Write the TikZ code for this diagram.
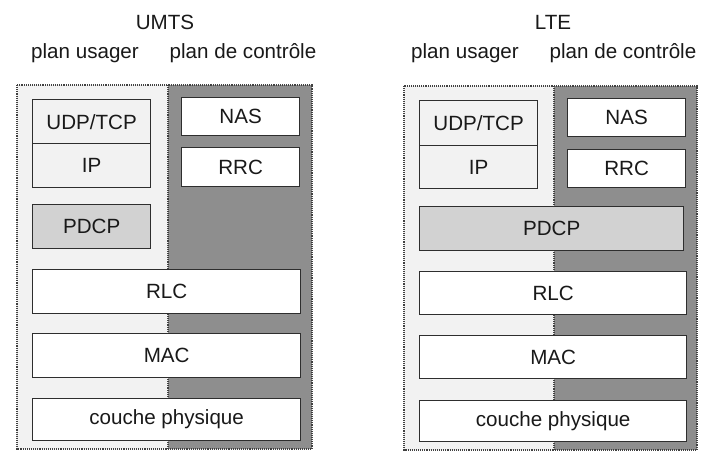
\documentclass[tikz,border=0pt]{standalone}
\usepackage{fontspec}
\setmainfont{Liberation Sans}
\definecolor{lightbg}{HTML}{F2F2F2}
\definecolor{darkbg}{HTML}{8E8E8E}
\definecolor{pdcpfill}{HTML}{D2D2D2}
\definecolor{edge}{HTML}{2E2E2E}
\begin{document}
\begin{tikzpicture}[x=1pt,y=-1pt,
  box/.style={draw=edge, line width=1.3pt, fill=white, inner sep=0pt, anchor=north west,
              font=\fontsize{20.6}{24}\selectfont, text=black!90},
  lbox/.style={box, fill=lightbg},
  pbox/.style={box, fill=pdcpfill},
  title/.style={font=\fontsize{20.6}{24}\selectfont, text=black!90, inner sep=0pt},
  frame/.style={draw=black!75, densely dotted, line width=1.1pt}]
\useasboundingbox (0,0) rectangle (705,451);
\fill[white] (0,0) rectangle (705,451);

% ---------- UMTS ----------
\fill[lightbg] (17,85) rectangle (168,449);
\fill[darkbg] (168,85) rectangle (312,449);
\draw[frame] (17,85) rectangle (312,449);
\draw[frame] (168,85) -- (168,449);

\node[title] (umts) at (165,22) {UMTS};
\node[title] (umtsU) at (85,53) {plan usager};
\node[title] (umtsC) at (243,53) {plan de contrôle};

\node[lbox, minimum width=118pt, minimum height=44pt] (uudp) at (32,99) {UDP/TCP};
\node[lbox, minimum width=118pt, minimum height=44pt] (uip) at (32,143) {IP};
\node[box, minimum width=118pt, minimum height=38pt] (unas) at (181,97) {NAS};
\node[box, minimum width=118pt, minimum height=39pt] (urrc) at (181,147) {RRC};
\node[pbox, minimum width=118pt, minimum height=44pt] (updcp) at (32,204) {PDCP};
\node[box, minimum width=268pt, minimum height=44pt] (urlc) at (32,269) {RLC};
\node[box, minimum width=268pt, minimum height=44pt] (umac) at (32,333) {MAC};
\node[box, minimum width=268pt, minimum height=42pt] (uphy) at (32,398) {couche physique};

% ---------- LTE ----------
\fill[lightbg] (404,86) rectangle (554,450);
\fill[darkbg] (554,86) rectangle (697,450);
\draw[frame] (404,86) rectangle (697,450);
\draw[frame] (554,86) -- (554,450);

\node[title] (lte) at (553,22) {LTE};
\node[title] (lteU) at (465,53) {plan usager};
\node[title] (lteC) at (623,53) {plan de contrôle};

\node[lbox, minimum width=118pt, minimum height=45pt] (ludp) at (419,100) {UDP/TCP};
\node[lbox, minimum width=118pt, minimum height=43pt] (lip) at (419,145) {IP};
\node[box, minimum width=118pt, minimum height=38pt] (lnas) at (567,98) {NAS};
\node[box, minimum width=118pt, minimum height=38pt] (lrrc) at (567,149) {RRC};
\node[pbox, minimum width=264pt, minimum height=44pt] (lpdcp) at (419,206) {PDCP};
\node[box, minimum width=267pt, minimum height=43pt] (lrlc) at (419,271) {RLC};
\node[box, minimum width=267pt, minimum height=43pt] (lmac) at (419,335) {MAC};
\node[box, minimum width=267pt, minimum height=41pt] (lphy) at (419,400) {couche physique};
\end{tikzpicture}
\end{document}
